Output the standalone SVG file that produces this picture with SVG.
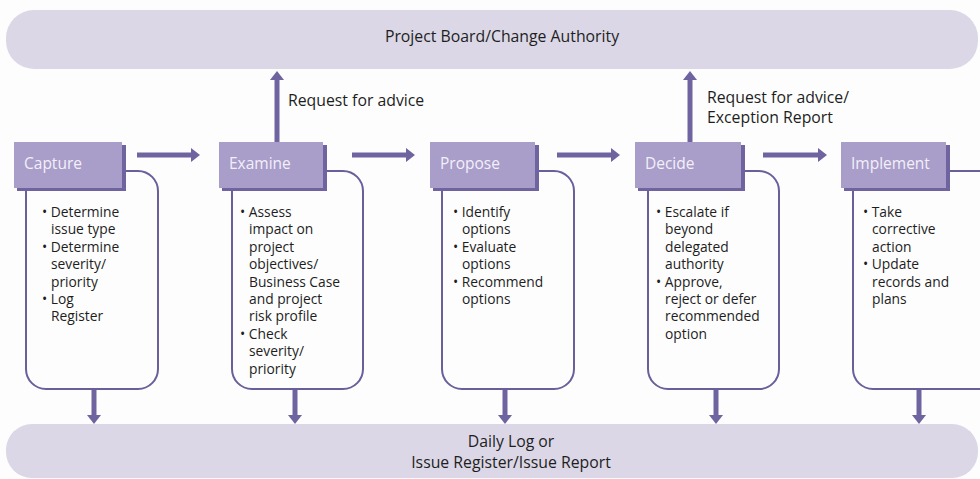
<svg xmlns="http://www.w3.org/2000/svg" width="980" height="479" viewBox="0 0 980 479">
  <defs>
    <style>
      .band { fill: #dbd7e6; }
      .hdr { fill: #a99dca; }
      .shd { fill: #6f64a0; }
      .body { fill: #fdfdfd; stroke: #6a5f9b; stroke-width: 2; }
      .arr { stroke: #6f64a0; stroke-width: 5; fill: none; }
      .ht { font-family: "Open Sans", "Liberation Sans", sans-serif; font-size: 15.5px; fill: #f3f0f8; }
      .t { font-family: "Open Sans", "Liberation Sans", sans-serif; font-size: 13.8px; fill: #1e1e1e; }
      .lt { font-family: "Open Sans", "Liberation Sans", sans-serif; font-size: 15.8px; fill: #1e1e1e; }
    </style>
    <marker id="ah" markerUnits="userSpaceOnUse" markerWidth="10" markerHeight="16" refX="1" refY="8" orient="auto">
      <path d="M0,1 L9,8 L0,15 Z" fill="#6f64a0"/>
    </marker>
  </defs>
  <rect width="980" height="479" fill="#fdfdfd"/>

  <g id="project-board">
    <rect class="band" x="6" y="10" width="972" height="59" rx="28"/>
    <text class="lt" x="502" y="42" text-anchor="middle" font-size="16.4">Project Board/Change Authority</text>
  </g>
  <g id="daily-log">
    <rect class="band" x="6" y="424" width="972" height="54" rx="26"/>
    <text class="lt" x="511" y="447" text-anchor="middle">Daily Log or</text>
    <text class="lt" x="511" y="468" text-anchor="middle">Issue Register/Issue Report</text>
  </g>

  <g id="connectors">
    <line class="arr" x1="137" y1="155" x2="192" y2="155" marker-end="url(#ah)"/>
    <line class="arr" x1="352" y1="155" x2="407" y2="155" marker-end="url(#ah)"/>
    <line class="arr" x1="557" y1="155" x2="612" y2="155" marker-end="url(#ah)"/>
    <line class="arr" x1="763" y1="155" x2="819" y2="155" marker-end="url(#ah)"/>
    <line class="arr" x1="277" y1="142" x2="277" y2="79" marker-end="url(#ah)"/>
    <line class="arr" x1="690" y1="142" x2="690" y2="79" marker-end="url(#ah)"/>
    <line class="arr" x1="94" y1="389" x2="94" y2="416" marker-end="url(#ah)"/>
    <line class="arr" x1="295" y1="389" x2="295" y2="416" marker-end="url(#ah)"/>
    <line class="arr" x1="505" y1="389" x2="505" y2="416" marker-end="url(#ah)"/>
    <line class="arr" x1="716" y1="389" x2="716" y2="416" marker-end="url(#ah)"/>
    <line class="arr" x1="919" y1="389" x2="919" y2="416" marker-end="url(#ah)"/>
  </g>
  <text class="lt" x="288" y="106">Request for advice</text>
  <text class="lt" x="707" y="103">Request for advice/</text>
  <text class="lt" x="707" y="123">Exception Report</text>

  <g id="capture">
    <rect class="body" x="26" y="171" width="132" height="218" rx="20"/>
    <rect class="shd" x="17" y="145" width="109" height="46"/>
    <rect class="hdr" x="14" y="142" width="108" height="46"/>
    <text class="ht" x="24" y="169">Capture</text>
    <text class="t">
      <tspan x="42" y="217">• Determine</tspan>
      <tspan x="51" y="234">issue type</tspan>
      <tspan x="42" y="252">• Determine</tspan>
      <tspan x="51" y="269">severity/</tspan>
      <tspan x="51" y="287">priority</tspan>
      <tspan x="42" y="304">• Log</tspan>
      <tspan x="51" y="321">Register</tspan>
    </text>
  </g>

  <g id="examine">
    <rect class="body" x="232" y="171" width="131" height="218" rx="20"/>
    <rect class="shd" x="222" y="145" width="105" height="46"/>
    <rect class="hdr" x="219" y="142" width="104" height="46"/>
    <text class="ht" x="229" y="169">Examine</text>
    <text class="t">
      <tspan x="240" y="217">• Assess</tspan>
      <tspan x="249" y="234">impact on</tspan>
      <tspan x="249" y="252">project</tspan>
      <tspan x="249" y="269">objectives/</tspan>
      <tspan x="249" y="287">Business Case</tspan>
      <tspan x="249" y="304">and project</tspan>
      <tspan x="249" y="321">risk profile</tspan>
      <tspan x="240" y="339">• Check</tspan>
      <tspan x="249" y="356">severity/</tspan>
      <tspan x="249" y="374">priority</tspan>
    </text>
  </g>

  <g id="propose">
    <rect class="body" x="442" y="171" width="132" height="218" rx="20"/>
    <rect class="shd" x="433" y="145" width="106" height="46"/>
    <rect class="hdr" x="430" y="142" width="105" height="46"/>
    <text class="ht" x="440" y="169">Propose</text>
    <text class="t">
      <tspan x="453" y="217">• Identify</tspan>
      <tspan x="462" y="234">options</tspan>
      <tspan x="453" y="252">• Evaluate</tspan>
      <tspan x="462" y="269">options</tspan>
      <tspan x="453" y="287">• Recommend</tspan>
      <tspan x="462" y="304">options</tspan>
    </text>
  </g>

  <g id="decide">
    <rect class="body" x="648" y="171" width="131" height="218" rx="20"/>
    <rect class="shd" x="638" y="145" width="107" height="46"/>
    <rect class="hdr" x="635" y="142" width="106" height="46"/>
    <text class="ht" x="645" y="169">Decide</text>
    <text class="t">
      <tspan x="656" y="217">• Escalate if</tspan>
      <tspan x="665" y="234">beyond</tspan>
      <tspan x="665" y="252">delegated</tspan>
      <tspan x="665" y="269">authority</tspan>
      <tspan x="656" y="287">• Approve,</tspan>
      <tspan x="665" y="304">reject or defer</tspan>
      <tspan x="665" y="321">recommended</tspan>
      <tspan x="665" y="339">option</tspan>
    </text>
  </g>

  <g id="implement">
    <rect class="body" x="853" y="171" width="150" height="218" rx="20"/>
    <rect class="shd" x="844" y="145" width="106" height="46"/>
    <rect class="hdr" x="841" y="142" width="105" height="46"/>
    <text class="ht" x="851" y="169">Implement</text>
    <text class="t">
      <tspan x="863" y="217">• Take</tspan>
      <tspan x="872" y="234">corrective</tspan>
      <tspan x="872" y="252">action</tspan>
      <tspan x="863" y="269">• Update</tspan>
      <tspan x="872" y="287">records and</tspan>
      <tspan x="872" y="304">plans</tspan>
    </text>
  </g>
</svg>
